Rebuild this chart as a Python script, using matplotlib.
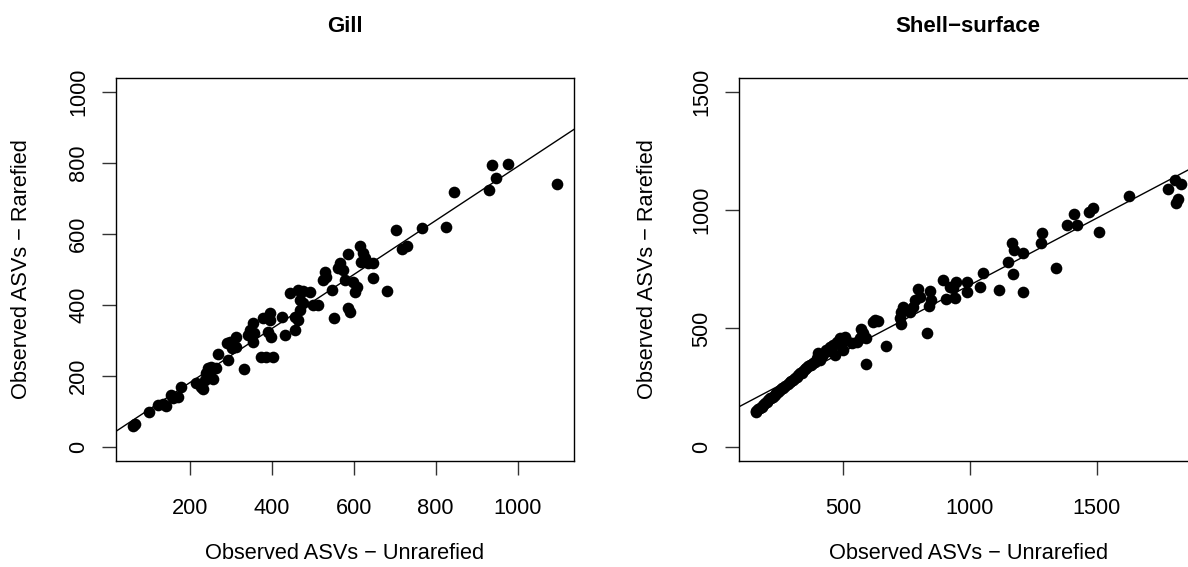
import matplotlib
matplotlib.use("Agg")
import matplotlib.pyplot as plt

plt.rcParams["font.family"] = ["Liberation Sans", "DejaVu Sans"]

# Gill samples: observed ASVs before / after rarefaction
gill_unrarefied = [61, 66, 101, 123, 135, 143, 155, 159, 171, 180,
                   215, 228, 232, 237, 241, 245, 249, 257, 253, 265,
                   269, 290, 293, 298, 302, 314, 312, 332, 342, 354,
                   346, 354, 356, 375, 387, 403, 379, 395, 391, 399,
                   424, 432, 456, 464, 468, 476, 395, 444, 464, 476,
                   493, 468, 501, 513, 456, 529, 533, 525, 546, 578,
                   598, 607, 602, 586, 590, 551, 566, 562, 574, 585,
                   615, 623, 627, 619, 635, 647, 647, 682, 704, 718,
                   729, 767, 824, 844, 929, 937, 946, 976, 1096]
gill_rarefied = [58, 64, 98, 118, 120, 115, 146, 136, 141, 169,
                 179, 169, 162, 188, 207, 221, 202, 190, 226, 221,
                 261, 292, 244, 296, 277, 310, 282, 219, 315, 348,
                 329, 296, 320, 253, 253, 253, 362, 376, 324, 310,
                 366, 315, 329, 357, 385, 404, 357, 432, 442, 440,
                 437, 414, 400, 400, 366, 493, 479, 470, 442, 470,
                 465, 451, 437, 390, 381, 362, 517, 503, 498, 543,
                 566, 545, 531, 522, 517, 519, 475, 440, 611, 557,
                 566, 616, 619, 717, 724, 794, 757, 796, 740]
gill_fit = (28.0, 0.762)  # intercept, slope

# Shell-surface samples
shell_unrarefied = [155, 158, 165, 171, 178, 184, 190, 198, 205, 212,
                    217, 224, 230, 237, 243, 250, 257, 263, 272, 283,
                    290, 296, 303, 310, 316, 322, 330, 336, 343, 349,
                    355, 362, 368, 375, 381, 388, 395, 401, 408, 408,
                    415, 422, 434, 440, 447, 447, 455, 460, 467, 474,
                    480, 487, 487, 500, 500, 507, 513,
                    533, 553, 566, 572, 579, 592, 589, 618, 625, 638,
                    668, 727, 724, 730, 737, 750, 763, 776, 783, 796,
                    803, 829, 839, 846, 844, 895, 906, 921, 934, 941,
                    945, 987, 989, 1039, 1052, 1114, 1151, 1167, 1171, 1174,
                    1208, 1208, 1279, 1283, 1339, 1385, 1411, 1421, 1471, 1484,
                    1510, 1627, 1780, 1809, 1833, 1812, 1820]
shell_rarefied = [150, 148, 158, 162, 170, 176, 183, 190, 198, 205,
                  205, 212, 219, 226, 233, 240, 247, 247, 256, 265,
                  272, 279, 282, 292, 296, 303, 310, 311, 320, 327,
                  334, 341, 346, 346, 352, 360, 375, 395, 374, 367,
                  385, 392, 409, 404, 416, 423, 420, 430, 388, 444,
                  440, 454, 458, 409, 451, 465, 451,
                  437, 444, 458, 497, 480, 458, 350, 529, 536, 530,
                  426, 518, 543, 571, 592, 578, 571, 592, 620, 666,
                  634, 482, 595, 620, 660, 705, 626, 677, 670, 628,
                  698, 695, 656, 677, 736, 663, 780, 863, 730, 832,
                  821, 656, 863, 903, 755, 938, 983, 938, 994, 1008,
                  909, 1060, 1089, 1128, 1110, 1032, 1046]
shell_fit = (118.6, 0.565)

LABEL_SIZE = 15.7


def r_range(lo, hi):
    # default R axis range: data span widened by 4% on each side
    pad = 0.04 * (hi - lo)
    return lo - pad, hi + pad


def panel(ax, x, y, fit, ylim, xticks, yticks, title, ylab_x):
    ax.plot(x, y, "o", color="black", ms=8.4, mew=0)
    ax.axline((0, fit[0]), slope=fit[1], color="black", lw=1.0)
    ax.set_xlim(*r_range(min(x), max(x)))
    ax.set_ylim(*r_range(*ylim))
    ax.set_xticks(xticks)
    ax.set_yticks(yticks)
    ax.tick_params(direction="out", length=10, width=1.0, color="#333333",
                   labelsize=LABEL_SIZE)
    ax.tick_params(axis="x", pad=17)
    ax.tick_params(axis="y", pad=9, labelrotation=90)
    for lab in ax.get_yticklabels():
        lab.set_va("center")
    for s in ax.spines.values():
        s.set_linewidth(1.0)

    ax.set_xlabel("Observed ASVs \u2212 Unrarefied", fontsize=LABEL_SIZE, va="center")
    ax.xaxis.set_label_coords(0.5, -0.2404)
    ax.set_ylabel("Observed ASVs \u2212 Rarefied", fontsize=LABEL_SIZE, va="center")
    ax.yaxis.set_label_coords(ylab_x, 0.5)
    ax.set_title(title, fontsize=16, fontweight="bold", y=1.1326, va="center", pad=0)


fig = plt.figure(figsize=(11.88, 5.67), dpi=100)
ax1 = fig.add_axes([0.0974, 0.1871, 0.3858, 0.6757])
ax2 = fig.add_axes([0.6218, 0.1871, 0.3866, 0.6757])

panel(ax1, gill_unrarefied, gill_rarefied, gill_fit, (0, 1000),
      [200, 400, 600, 800, 1000], [0, 200, 400, 600, 800, 1000], "Gill", -0.2045)
panel(ax2, shell_unrarefied, shell_rarefied, shell_fit, (0, 1500),
      [500, 1000, 1500], [0, 500, 1000, 1500], "Shell\u2212surface", -0.1975)

fig.savefig("out.png", dpi=100)
